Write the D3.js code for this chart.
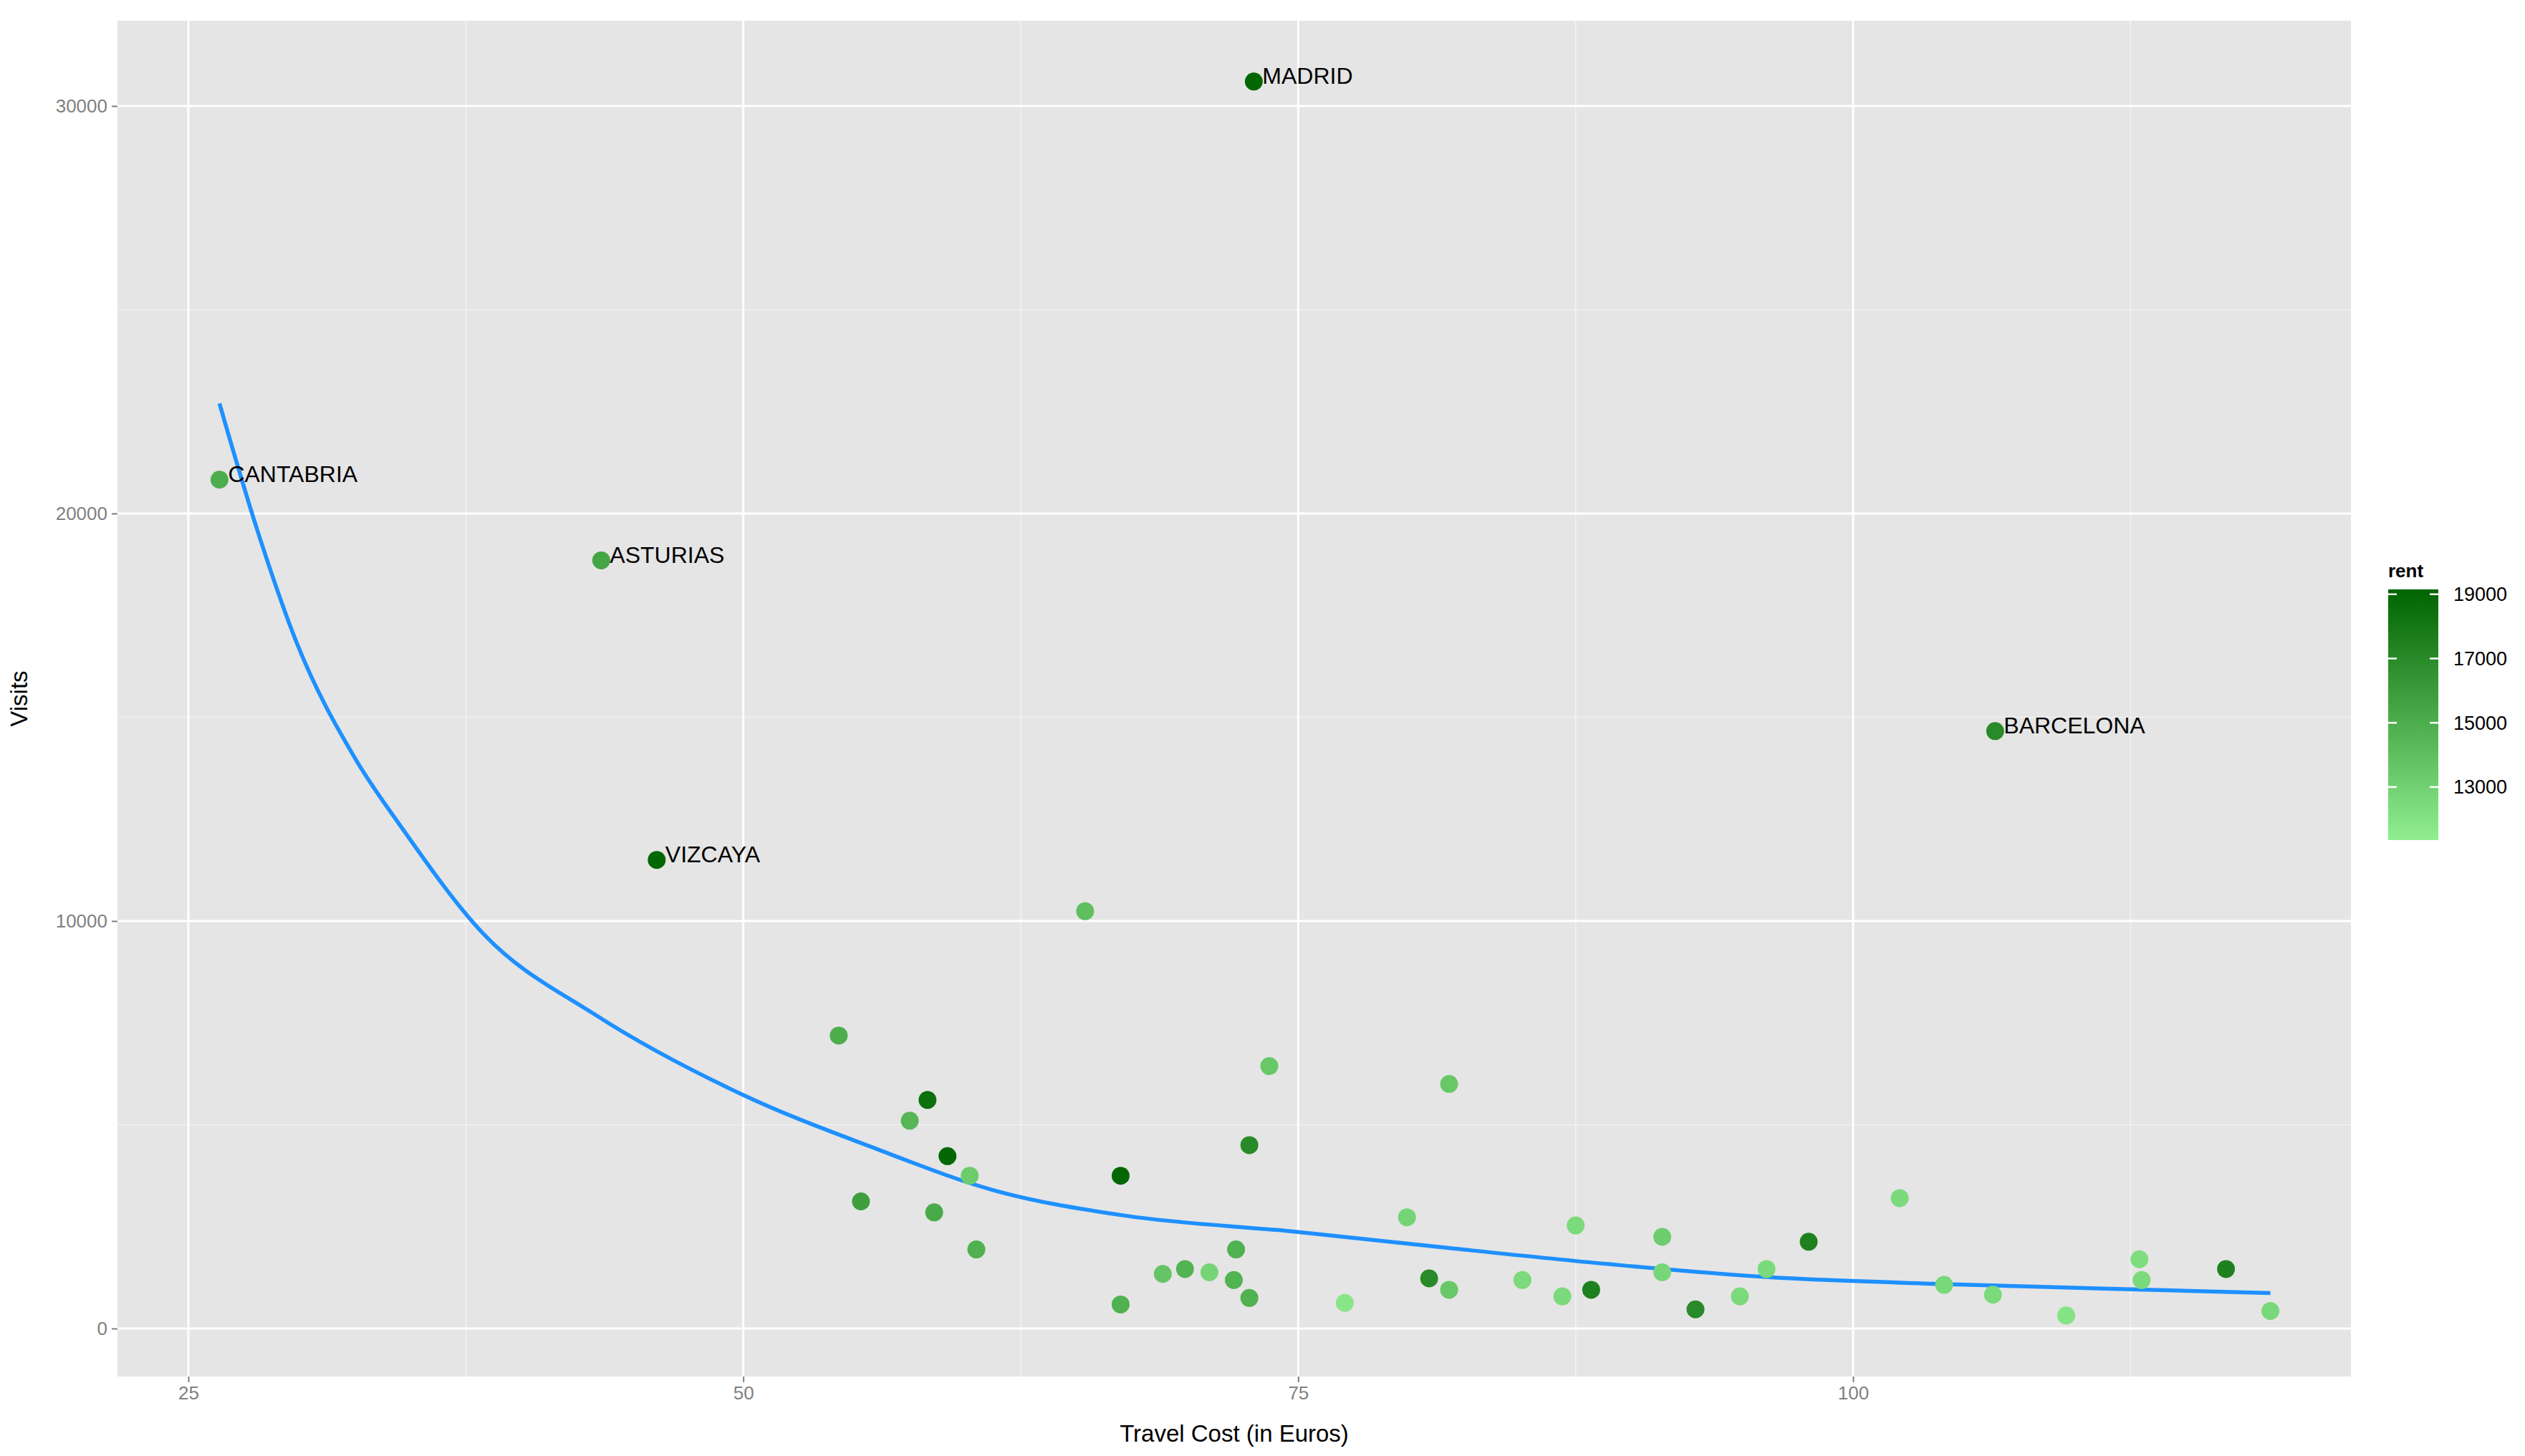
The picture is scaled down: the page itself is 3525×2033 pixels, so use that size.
<!DOCTYPE html>
<html>
<head>
<meta charset="utf-8">
<script src="https://cdn.jsdelivr.net/npm/d3@7"></script>
<style>
  body { margin: 0; background: #fff; }
  text { font-family: "Liberation Sans", Arial, sans-serif; }
</style>
</head>
<body>
<div id="main"></div>
<script>
// travel cost, visits, rent, label
let cost = [73.0, 26.4, 43.6, 46.1, 106.4, 65.4, 54.3, 73.7, 81.8, 58.3, 57.5, 72.8, 59.2, 67.0, 60.2, 55.3, 58.6, 102.1, 79.9, 87.5, 91.4, 98.0, 60.5, 72.2, 112.9, 116.8, 68.9, 69.9, 71.0, 72.1, 91.4, 96.1, 113.0, 80.9, 81.8, 85.1, 104.1, 72.8, 88.2, 86.9, 94.9, 106.3, 77.1, 67.0, 92.9, 109.6, 118.8]
let visits = [30600, 20830, 18850, 11500, 14660, 10240, 7190, 6440, 6000, 5610, 5100, 4500, 4230, 3750, 3750, 3120, 2850, 3200, 2730, 2530, 2250, 2130, 1940, 1940, 1700, 1460, 1340, 1460, 1380, 1190, 1380, 1460, 1190, 1230, 950, 1190, 1070, 750, 950, 790, 790, 830, 630, 590, 470, 320, 430]
let rent = [19000, 15000, 15500, 19000, 17000, 14000, 15000, 13500, 13500, 18500, 14500, 17000, 19000, 19000, 13300, 15800, 15200, 12500, 12800, 12500, 13200, 17500, 14800, 14800, 12300, 17500, 13700, 14700, 12800, 14700, 12700, 12500, 12500, 17000, 13500, 12500, 12600, 14800, 17500, 12500, 12500, 12500, 11800, 14800, 17000, 12000, 12600]
let names = ["MADRID", "CANTABRIA", "ASTURIAS", "VIZCAYA", "BARCELONA"]

// fitted curve
let fitX = [26.4, 28.1, 29.9, 32.5, 34.6, 38.3, 43.3, 50, 55.7, 61.5, 67.2, 75, 81.7, 89, 96.2, 103.5, 110.7, 118.8]
let fitY = [22700, 19600, 16800, 14000, 12300, 9680, 7710, 5730, 4470, 3360, 2770, 2370, 1980, 1580, 1260, 1100, 990, 870]

let xTicks = [25, 50, 75, 100]
let yTicks = [0, 10000, 20000, 30000]
let rentTicks = [13000, 15000, 17000, 19000]

let width = 3525, height = 2033
let panel = {left: 164, right: 3282, top: 29, bottom: 1922}

let svg = d3.select('#main').append('svg')
    .attr('width', width).attr('height', height)

let xScale = d3.scaleLinear().domain([25, 100]).range([263, 2587])
let yScale = d3.scaleLinear().domain([0, 30000]).range([1855, 148])
let color = d3.scaleLinear().domain([11350, 19150]).range(['#90EE90', '#006400'])

svg.append('rect')
    .attr('x', panel.left).attr('y', panel.top)
    .attr('width', panel.right - panel.left).attr('height', panel.bottom - panel.top)
    .style('fill', '#e5e5e5')

let minorX = [37.5, 62.5, 87.5, 112.5]
let minorY = [5000, 15000, 25000]
let grid = svg.append('g')
grid.selectAll('.mx').data(minorX).enter().append('line')
    .attr('x1', d => xScale(d)).attr('x2', d => xScale(d))
    .attr('y1', panel.top).attr('y2', panel.bottom)
    .style('stroke', '#f2f2f2').style('stroke-width', 1.5)
grid.selectAll('.my').data(minorY).enter().append('line')
    .attr('y1', d => yScale(d)).attr('y2', d => yScale(d))
    .attr('x1', panel.left).attr('x2', panel.right)
    .style('stroke', '#f2f2f2').style('stroke-width', 1.5)
grid.selectAll('.gx').data(xTicks).enter().append('line')
    .attr('x1', d => xScale(d)).attr('x2', d => xScale(d))
    .attr('y1', panel.top).attr('y2', panel.bottom)
    .style('stroke', '#fff').style('stroke-width', 3)
grid.selectAll('.gy').data(yTicks).enter().append('line')
    .attr('y1', d => yScale(d)).attr('y2', d => yScale(d))
    .attr('x1', panel.left).attr('x2', panel.right)
    .style('stroke', '#fff').style('stroke-width', 3)

let xAxis = d3.axisBottom(xScale).tickValues(xTicks).tickSize(8).tickPadding(6)
let gx = svg.append('g').attr('transform', `translate(0, ${panel.bottom})`).call(xAxis)
let yAxis = d3.axisLeft(yScale).tickValues(yTicks).tickFormat(d3.format('d')).tickSize(8).tickPadding(6)
let gy = svg.append('g').attr('transform', `translate(${panel.left}, 0)`).call(yAxis)
for (let g of [gx, gy]) {
    g.select('.domain').remove()
    g.selectAll('line').style('stroke', '#7f7f7f').style('stroke-width', 2)
    g.selectAll('text').style('font-size', '26px').style('fill', '#7f7f7f')
        .style('font-family', '"Liberation Sans", Arial, sans-serif')
}

svg.append('text').attr('x', (panel.left + panel.right) / 2).attr('y', 2013)
    .attr('text-anchor', 'middle').style('font-size', '33px').text('Travel Cost (in Euros)')
svg.append('text').attr('transform', `translate(38, ${(panel.top + panel.bottom) / 2}) rotate(-90)`)
    .attr('text-anchor', 'middle').style('font-size', '33px').text('Visits')

let line = d3.line().x((d, i) => xScale(fitX[i])).y(d => yScale(d)).curve(d3.curveMonotoneX)
svg.append('path').datum(fitY).attr('d', line)
    .style('fill', 'none').style('stroke', '#1E90FF').style('stroke-width', 5.5)

svg.selectAll('.dot').data(cost).enter().append('circle')
    .attr('cx', d => xScale(d))
    .attr('cy', (d, i) => yScale(visits[i]))
    .attr('r', 12.5)
    .style('fill', (d, i) => color(rent[i]))

svg.selectAll('.lab').data(names).enter().append('text')
    .attr('x', (d, i) => xScale(cost[i]) + 12)
    .attr('y', (d, i) => yScale(visits[i]))
    .attr('dy', '0.1em')
    .style('font-size', '32px').text(d => d)

// legend
let legend = svg.append('g')
let defs = svg.append('defs')
let grad = defs.append('linearGradient').attr('id', 'rentgrad')
    .attr('x1', 0).attr('x2', 0).attr('y1', 1).attr('y2', 0)
grad.append('stop').attr('offset', '0%').attr('stop-color', color(11350))
grad.append('stop').attr('offset', '100%').attr('stop-color', color(19150))
let lScale = d3.scaleLinear().domain([11350, 19150]).range([1173, 823])
legend.append('text').attr('x', 3334).attr('y', 806)
    .style('font-size', '26px').style('font-weight', 'bold').text('rent')
legend.append('rect').attr('x', 3334).attr('y', 823).attr('width', 70).attr('height', 350)
    .style('fill', 'url(#rentgrad)')
legend.selectAll('.lt1').data(rentTicks).enter().append('line')
    .attr('x1', 3334).attr('x2', 3346).attr('y1', d => lScale(d)).attr('y2', d => lScale(d))
    .style('stroke', '#fff').style('stroke-width', 2.5)
legend.selectAll('.lt2').data(rentTicks).enter().append('line')
    .attr('x1', 3392).attr('x2', 3404).attr('y1', d => lScale(d)).attr('y2', d => lScale(d))
    .style('stroke', '#fff').style('stroke-width', 2.5)
legend.selectAll('.ll').data(rentTicks).enter().append('text')
    .attr('x', 3425).attr('y', d => lScale(d)).attr('dy', '0.35em')
    .style('font-size', '27px').text(d => d)
</script>
</body>
</html>
